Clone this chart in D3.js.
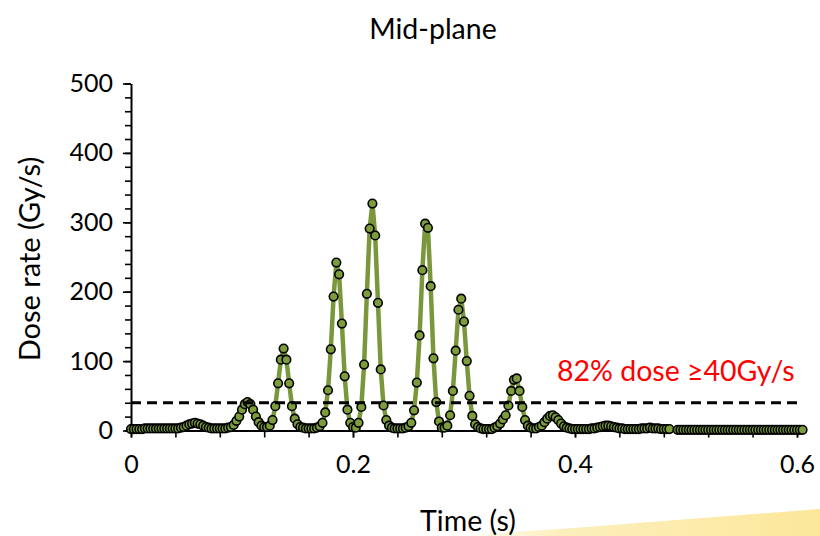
<!DOCTYPE html>
<html>
<head>
<meta charset="utf-8">
<script src="https://cdn.jsdelivr.net/npm/d3@7"></script>
<style>
  html, body { margin: 0; padding: 0; background: #ffffff; }
  svg { display: block; font-family: Lato, "Open Sans", sans-serif; }
</style>
</head>
<body>
<svg id="chart" width="820" height="536"></svg>
<script>
// Dose rate sampled every 2.5 ms at the mid-plane (Gy/s); null = missing sample
const sampleStep = 0.0025;
const doseRate = [
  2, 2, 2, 2, 2, 3, 3, 3, 3, 3,
  3, 3, 3, 3, 3, 3, 3, 3, 4, 5,
  7, 9, 10, 11, 10, 9, 7, 5, 4, 3,
  3, 3, 3, 3, 3, 4, 5, 8, 14, 20,
  30, 38, 41, 38, 30, 20, 12, 7, 5, 5,
  7, 15, 35, 68, 102, 118, 102, 68, 35, 17,
  9, 5, 4, 3, 3, 3, 3, 4, 6, 11,
  26, 58, 117, 193, 242, 225, 154, 78, 30, 11,
  5, 4, 11, 34, 95, 197, 291, 327, 281, 184,
  88, 36, 15, 7, 4, 3, 3, 3, 3, 4,
  6, 11, 29, 69, 137, 231, 298, 292, 208, 104,
  41, 13, 4, 4, 7, 22, 57, 115, 174, 190,
  157, 100, 50, 21, 9, 5, 3, 2, 2, 2,
  2, 4, 6, 10, 16, 22, 36, 57, 73, 75,
  57, 34, 15, 7, 4, 3, 3, 5, 7, 12,
  17, 21, 22, 19, 15, 10, 6, 4, 3, 2,
  2, 2, 2, 2, 2, 2, 3, 3, 4, 5,
  6, 7, 7, 6, 5, 4, 3, 3, 2, 2,
  2, 2, 2, 2, 3, 3, 3, 4, 3, 3,
  3, 2, 2, 2, 2, null, null, 1, 1, 1,
  1, 1, 1, 1, 1, 1, 1, 1, 1, 1,
  1, 1, 1, 1, 1, 1, 1, 1, 1, 1,
  1, 1, 1, 1, 1, 1, 1, 1, 1, 1,
  1, 1, 1, 1, 1, 1, 1, 1, 1, 1,
  1, 1, 1
];

const xTickValues = [0, 0.2, 0.4, 0.6];
const xTickLabels = ["0", "0.2", "0.4", "0.6"];
const xMinorStep = 0.04;
const yTickValues = [0, 100, 200, 300, 400, 500];
const yTickLabels = ["0", "100", "200", "300", "400", "500"];
const yMinorStep = 20;

const thresholdRate = 40;
const thresholdNote = "82% dose \u226540Gy/s";
const chartTitle = "Mid-plane";
const xTitle = "Time (s)";
const yTitle = "Dose rate (Gy/s)";

const points = doseRate.map((v, i) => ({ t: i * sampleStep, v: v }));

const svg = d3.select("#chart");
const x = d3.scaleLinear().domain([0, 0.6]).range([131, 797]);
const y = d3.scaleLinear().domain([0, 500]).range([430.5, 83.5]);

// soft yellow band along the lower right edge
const defs = svg.append("defs");
const grad = defs.append("linearGradient").attr("id", "band")
  .attr("x1", "0").attr("y1", "0").attr("x2", "1").attr("y2", "0");
grad.append("stop").attr("offset", "0").attr("stop-color", "#fcebab").attr("stop-opacity", 0);
grad.append("stop").attr("offset", "0.3").attr("stop-color", "#fcebab").attr("stop-opacity", 0.8);
grad.append("stop").attr("offset", "1").attr("stop-color", "#fce79a").attr("stop-opacity", 1);
svg.append("path")
  .attr("d", "M450,536 L560,529 L820,509 L820,536 Z")
  .attr("fill", "url(#band)");

// title
svg.append("text")
  .attr("x", 433).attr("y", 39)
  .attr("text-anchor", "middle")
  .attr("font-size", 28.5)
  .attr("fill", "#000")
  .text(chartTitle);

// minor ticks
const yMinor = svg.append("g").attr("transform", `translate(${x(0)},0)`)
  .call(d3.axisLeft(y).tickValues(d3.range(0, 500.1, yMinorStep)).tickSize(6).tickSizeOuter(0).tickFormat(""));
yMinor.select(".domain").remove();
yMinor.selectAll("line").attr("stroke", "#000").attr("stroke-width", 1.6);

const xMinor = svg.append("g").attr("transform", `translate(0,${y(0)})`)
  .call(d3.axisBottom(x).tickValues(d3.range(0, 0.6001, xMinorStep)).tickSize(7).tickSizeOuter(0).tickFormat(""));
xMinor.select(".domain").remove();
xMinor.selectAll("line").attr("stroke", "#000").attr("stroke-width", 1.6);

// major axes
const yAxis = svg.append("g").attr("transform", `translate(${x(0)},0)`)
  .call(d3.axisLeft(y).tickValues(yTickValues).tickSize(8).tickSizeOuter(0).tickPadding(10)
    .tickFormat((d, i) => yTickLabels[i]));
const xAxis = svg.append("g").attr("transform", `translate(0,${y(0)})`)
  .call(d3.axisBottom(x).tickValues(xTickValues).tickSize(7).tickSizeOuter(0).tickPadding(18)
    .tickFormat((d, i) => xTickLabels[i]));
[yAxis, xAxis].forEach(g => {
  g.select(".domain").attr("stroke", "#000").attr("stroke-width", 2);
  g.selectAll(".tick line").attr("stroke", "#000").attr("stroke-width", 1.6);
  g.selectAll(".tick text").attr("fill", "#000").attr("font-size", 25)
    .attr("font-family", "Lato, 'Open Sans', sans-serif");
});

// axis titles
svg.append("text")
  .attr("x", 468).attr("y", 531)
  .attr("text-anchor", "middle")
  .attr("font-size", 28.5)
  .attr("fill", "#000")
  .text(xTitle);
svg.append("text")
  .attr("transform", "translate(40,259) rotate(-90)")
  .attr("text-anchor", "middle")
  .attr("font-size", 29)
  .attr("fill", "#000")
  .text(yTitle);

// dose-rate trace
const line = d3.line()
  .defined(d => d.v !== null)
  .x(d => x(d.t))
  .y(d => y(d.v));
svg.append("path")
  .datum(points)
  .attr("d", line)
  .attr("fill", "none")
  .attr("stroke", "#7a983b")
  .attr("stroke-width", 4.5)
  .attr("stroke-linejoin", "round");
svg.append("g").selectAll("circle")
  .data(points.filter(d => d.v !== null))
  .join("circle")
  .attr("cx", d => x(d.t))
  .attr("cy", d => y(d.v))
  .attr("r", 4.3)
  .attr("fill", "#7d9c3c")
  .attr("stroke", "#000")
  .attr("stroke-width", 1.6);

// threshold line and note
svg.append("line")
  .attr("x1", x(0)).attr("x2", x(0.6))
  .attr("y1", y(thresholdRate)).attr("y2", y(thresholdRate))
  .attr("stroke", "#000")
  .attr("stroke-width", 3)
  .attr("stroke-dasharray", "10,6");
svg.append("text")
  .attr("x", 557).attr("y", 381)
  .attr("font-size", 28.5)
  .attr("fill", "#ff0000")
  .text(thresholdNote);
</script>
</body>
</html>
